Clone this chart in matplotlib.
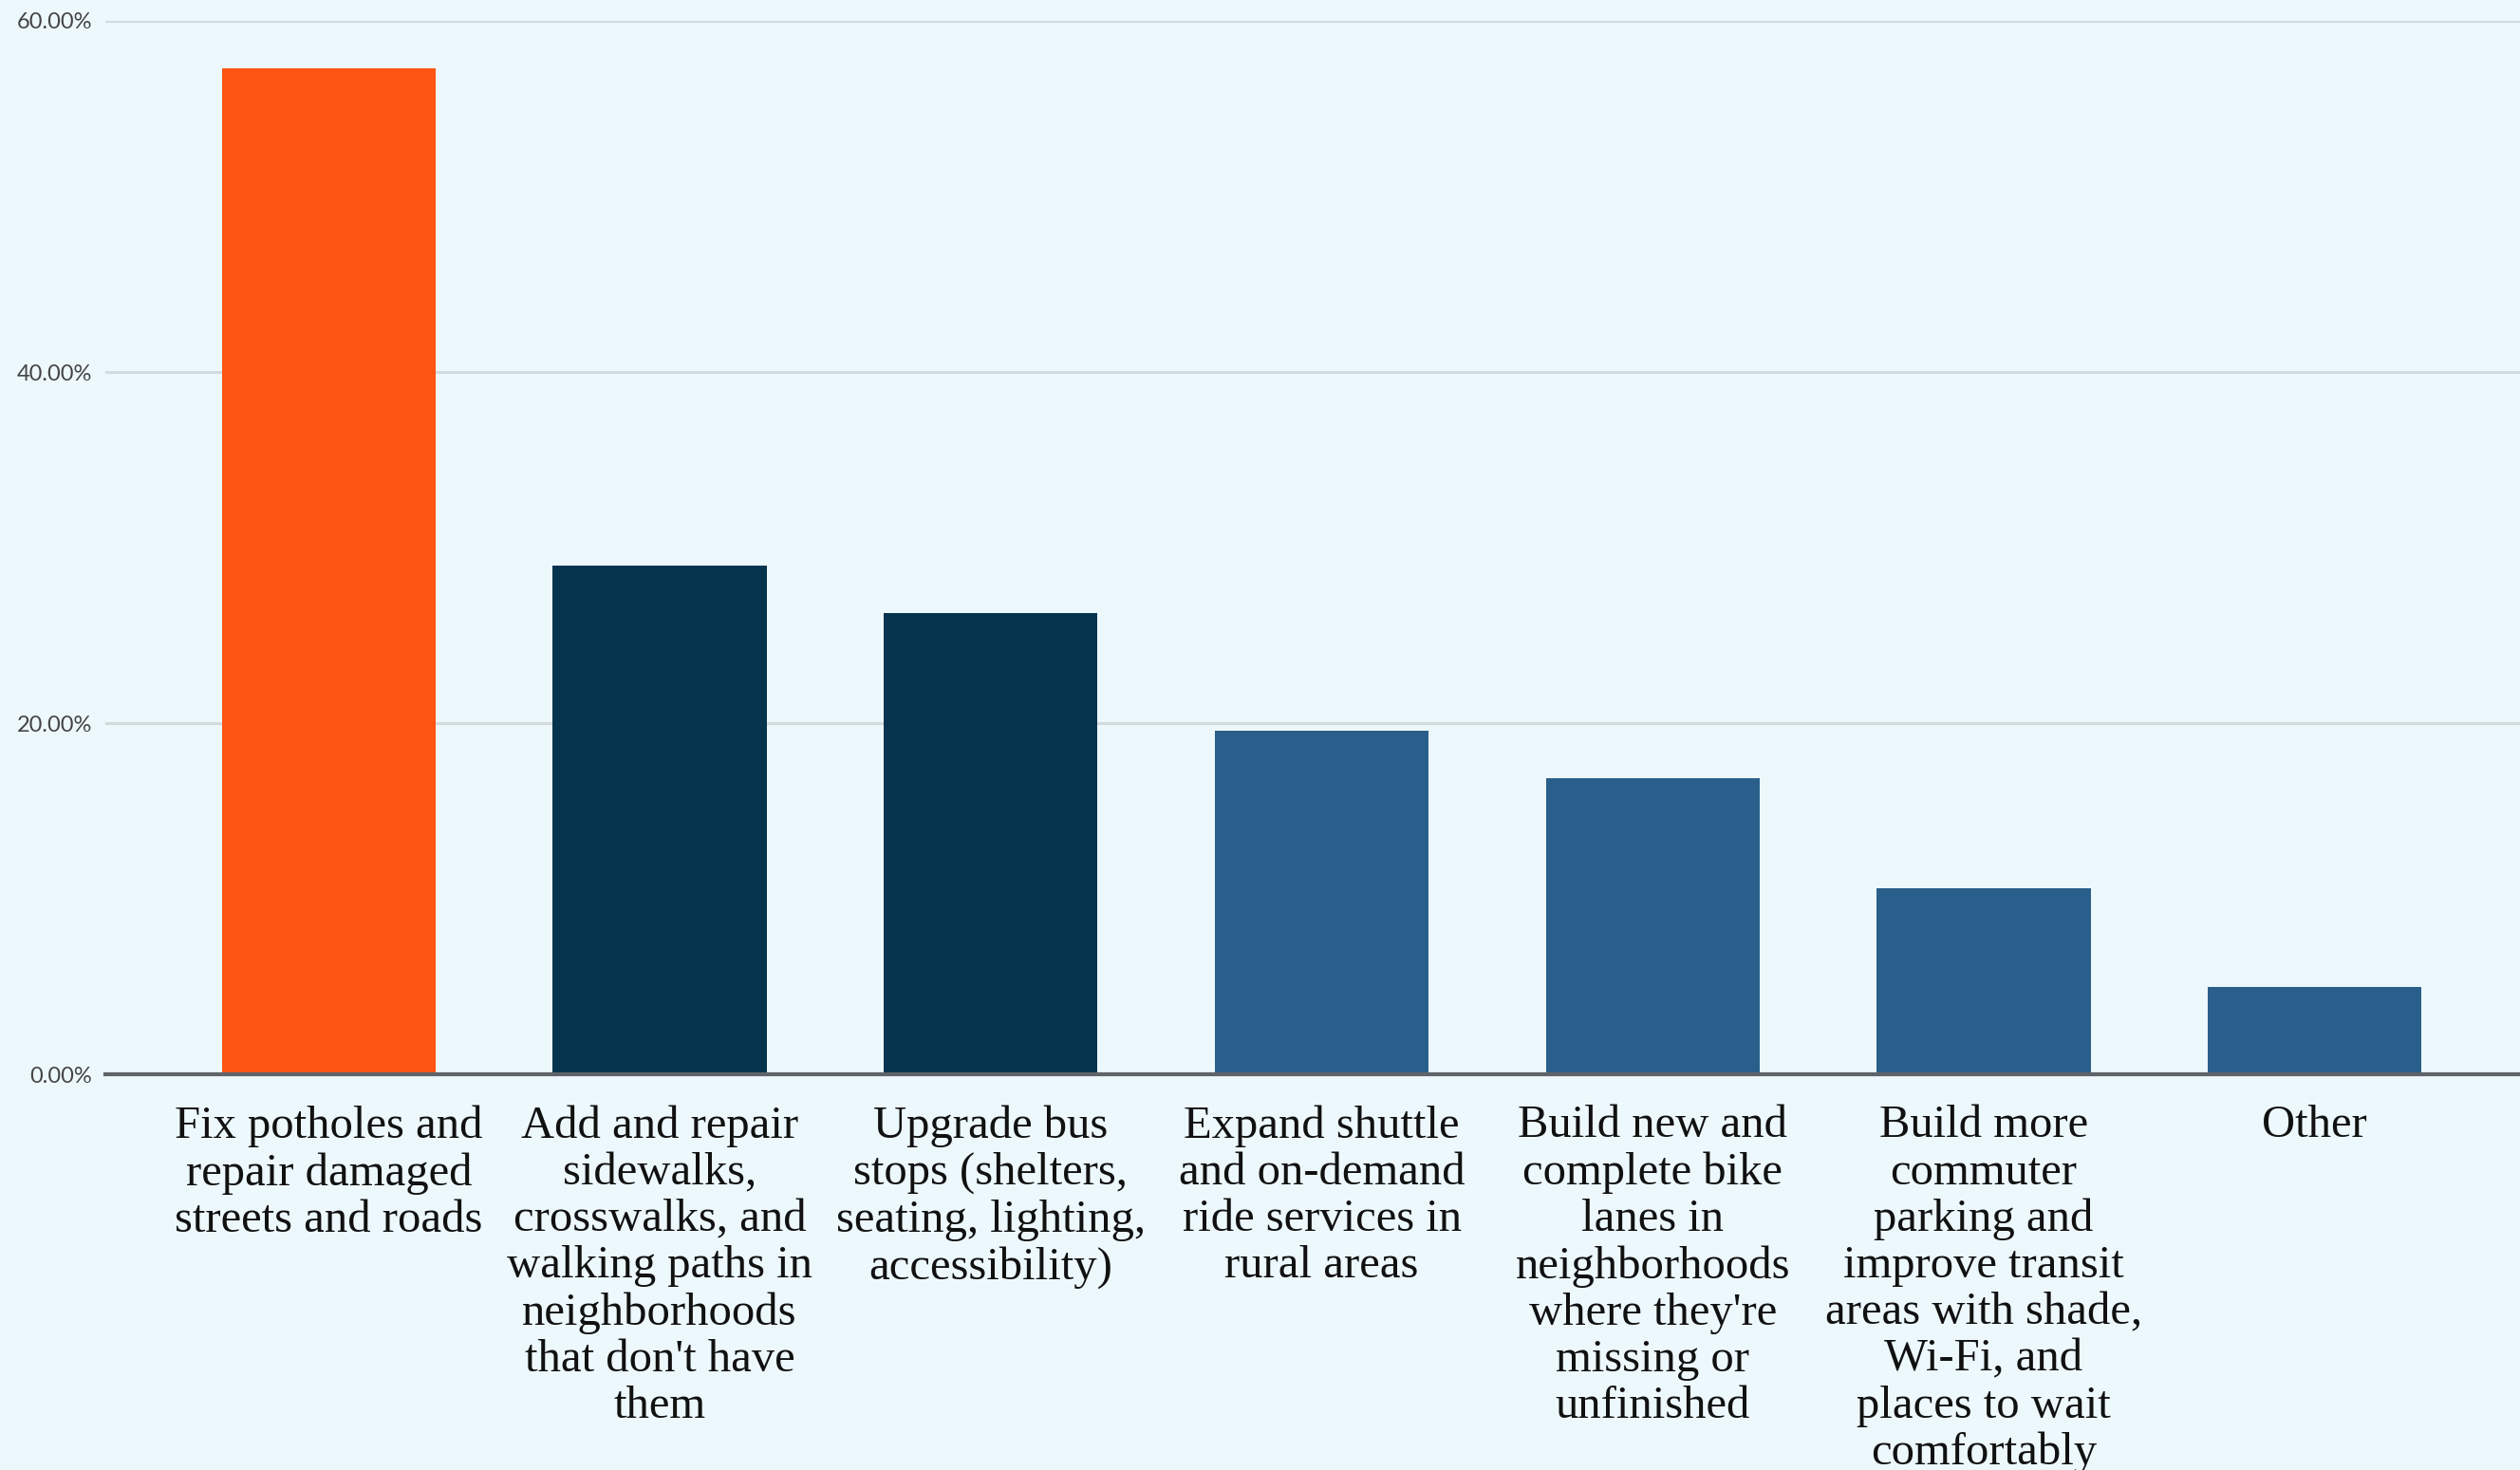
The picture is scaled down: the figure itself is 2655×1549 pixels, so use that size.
"""Bar chart: transportation priorities (share of respondents)."""
import matplotlib
matplotlib.use("Agg")
import matplotlib.pyplot as plt
from matplotlib.ticker import FuncFormatter

categories = [
    "Fix potholes and\nrepair damaged\nstreets and roads",
    "Add and repair\nsidewalks,\ncrosswalks, and\nwalking paths in\nneighborhoods\nthat don't have\nthem",
    "Upgrade bus\nstops (shelters,\nseating, lighting,\naccessibility)",
    "Expand shuttle\nand on-demand\nride services in\nrural areas",
    "Build new and\ncomplete bike\nlanes in\nneighborhoods\nwhere they're\nmissing or\nunfinished",
    "Build more\ncommuter\nparking and\nimprove transit\nareas with shade,\nWi-Fi, and\nplaces to wait\ncomfortably",
    "Other",
]
values = [57.3, 29.0, 26.3, 19.6, 16.9, 10.6, 5.0]
colors = ["#FF5512", "#06344F", "#06344F", "#2A5F8B", "#2A5F8B", "#2A5F8B", "#2A5F8B"]
yticks = [0, 20, 40, 60]

BG = "#EDF8FD"

fig = plt.figure(figsize=(26.55, 15.49), dpi=100)
fig.patch.set_facecolor(BG)

ax = fig.add_axes([0.0418, 0.2689, 0.9582, 0.7169])
ax.set_facecolor("none")

x = range(len(values))
ax.bar(x, values, width=0.646, color=colors, zorder=3)

ax.set_xlim(-0.675, 6.62)
ax.set_ylim(0, 60)
ax.set_yticks(yticks)
ax.yaxis.set_major_formatter(FuncFormatter(lambda v, _: f"{v:.2f}%"))
ax.grid(axis="y", color="#D3DADD", linewidth=2.2, zorder=1)
ax.axhline(0, color="#5F6468", linewidth=3, zorder=4, clip_on=False)

for s in ax.spines.values():
    s.set_visible(False)

ax.tick_params(axis="y", length=0, pad=10, labelsize=17, labelcolor="#444444")
for lbl in ax.get_yticklabels():
    lbl.set_fontfamily("Lato")

ax.set_xticks(list(x))
ax.set_xticklabels(categories, fontsize=35, fontfamily="Liberation Serif",
                   color="#111111", linespacing=1.15, va="top")
ax.tick_params(axis="x", length=0, pad=23)

fig.savefig("out.png", dpi=100, facecolor=BG)
